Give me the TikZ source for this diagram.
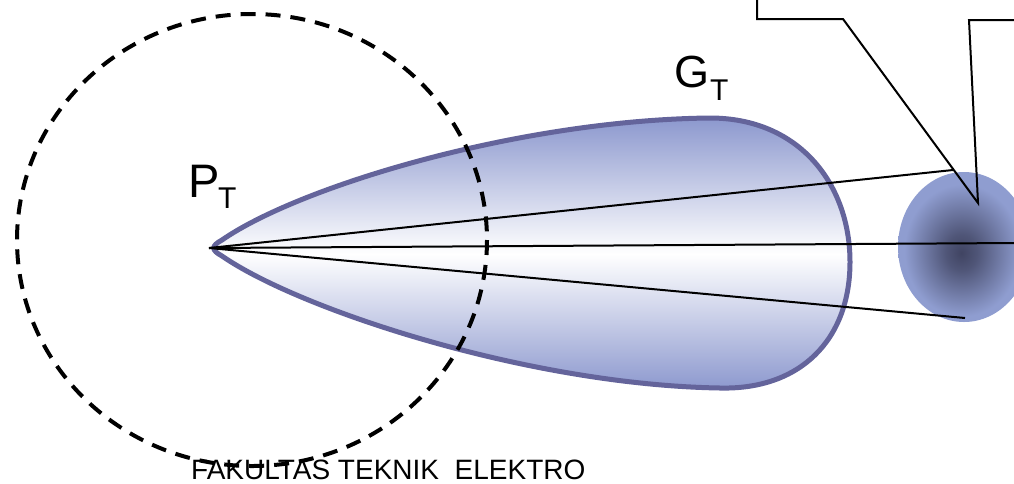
\documentclass[tikz,border=0pt]{standalone}
\usepackage{fontspec}
\setmainfont{Liberation Sans}
\definecolor{lobe}{RGB}{100,100,155}
\definecolor{lobefill}{RGB}{140,152,206}
\definecolor{spotdark}{RGB}{64,68,98}
\definecolor{spotlight}{RGB}{143,157,208}
\pgfdeclareradialshading{spotshade}{\pgfpoint{-1bp}{-2bp}}{color(0bp)=(spotdark); color(6bp)=(spotdark!80!spotlight); color(22bp)=(spotlight); color(50bp)=(spotlight)}
\tikzset{
  lbl/.style={inner sep=0pt, anchor=base west, text=black},
  ray/.style={draw=black, line width=2pt},
  callout/.style={draw=black, line width=2pt, line join=miter},
}
\begin{document}
\begin{tikzpicture}[x=1pt,y=-1pt]
\useasboundingbox (0,0) rectangle (1014,483);
\clip (0,0) rectangle (1014,483);
% main lobe
\path[draw=lobe, line width=5pt, top color=lobefill, bottom color=lobefill, middle color=white]
  (222,240) .. controls (300,186) and (520,120) .. (710,118)
  .. controls (800,118) and (850,185) .. (850,262)
  .. controls (850,340) and (800,390) .. (720,388)
  .. controls (530,385) and (300,310) .. (222,256)
  .. controls (211,250) and (211,246) .. (222,240) -- cycle;
% receiving spot
\path[shade, shading=spotshade]
  (964,247) ellipse [x radius=66, y radius=75];
% coordinates
\coordinate (tip) at (209,248);
\coordinate (r1) at (953,170);
\coordinate (r2) at (1016,243);
\coordinate (r3) at (965,318);
\draw[ray] (tip) -- (r1);
\draw[ray] (tip) -- (r2);
\draw[ray] (tip) -- (r3);
% callout
\coordinate (c0) at (757,-3);
\coordinate (c1) at (757,19);
\coordinate (c2) at (843,19);
\coordinate (c3) at (978,203);
\coordinate (c4) at (969,20);
\coordinate (c5) at (1017,20);
\draw[callout] (c0) -- (c1) -- (c2) -- (c3) -- (c4) -- (c5);
% dashed isotropic circle
\draw[black, line width=4pt, dash pattern=on 15pt off 10pt]
  (252,240) ellipse [x radius=235, y radius=226];
% labels
\node[lbl, font=\fontsize{47}{50}\selectfont] (P) at (188,197) {P};
\node[lbl, font=\fontsize{30}{32}\selectfont] (PT) at (218,208) {T};
\node[lbl, font=\fontsize{45}{48}\selectfont] (G) at (674,87) {G};
\node[lbl, font=\fontsize{30}{32}\selectfont] (GT) at (710,100) {T};
\node[lbl, font=\fontsize{28}{30}\selectfont] (footer) at (191,479) {FAKULTAS TEKNIK\ \ ELEKTRO};
\end{tikzpicture}
\end{document}
